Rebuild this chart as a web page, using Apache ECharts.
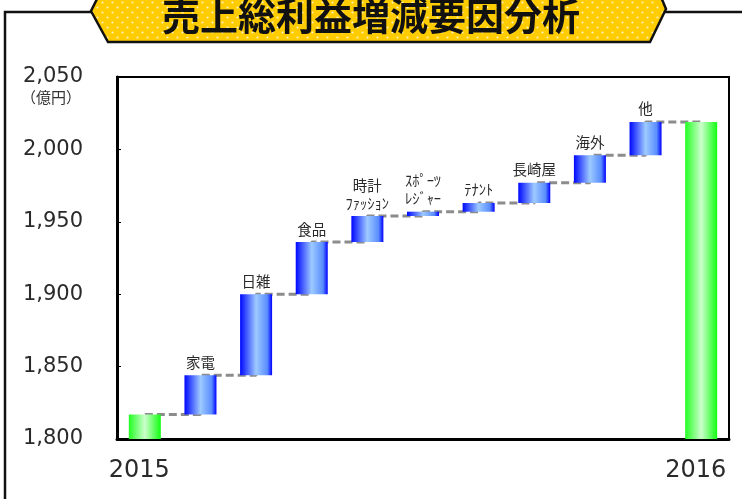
<!DOCTYPE html>
<html>
<head>
<meta charset="utf-8">
<script src="https://cdn.jsdelivr.net/npm/echarts@6/dist/echarts.min.js"></script>
<style>
  html, body { margin: 0; padding: 0; background: #fff; }
  #chart { width: 742px; height: 499px; }
</style>
</head>
<body>
<div id="chart"></div>
<script>
// 売上総利益の増減要因（億円）
const categories = ['2015', '家電', '日雑', '食品', '時計\nﾌｧｯｼｮﾝ', 'ｽﾎﾟｰﾂ\nﾚｼﾞｬｰ', 'ﾃﾅﾝﾄ', '長崎屋', '海外', '他', '2016'];
const startValue = 1817;
const increases = [27, 56, 36, 18, 3, 6, 14, 19, 23];
const endValue = 2019;
const yTicks = [1800, 1850, 1900, 1950, 2000, 2050];
const unitLabel = '（億円）';
const titleText = '売上総利益増減要因分析';

// waterfall layers built from the values above
const n = categories.length;
const baseData = [], incData = [], totalData = [], levels = [];
let running = startValue;
baseData.push(0); incData.push(0); totalData.push(startValue); levels.push(startValue);
increases.forEach(v => {
  baseData.push(running);
  incData.push(v);
  totalData.push(0);
  running += v;
  levels.push(running);
});
baseData.push(0); incData.push(0); totalData.push(endValue); levels.push(endValue);

const blueGrad = new echarts.graphic.LinearGradient(0, 0, 1, 0, [
  { offset: 0, color: '#0008ff' },
  { offset: 0.5, color: '#9dcaff' },
  { offset: 0.85, color: '#5a8dff' },
  { offset: 1, color: '#0000ff' }
]);
const greenGrad = new echarts.graphic.LinearGradient(0, 0, 1, 0, [
  { offset: 0, color: '#22ff22' },
  { offset: 0.5, color: '#ccffcc' },
  { offset: 1, color: '#11ff11' }
]);

// dotted fill for the title banner
const tile = document.createElement('canvas');
tile.width = 10; tile.height = 10;
(function () {
  const c = tile.getContext('2d');
  c.fillStyle = '#ffcc00';
  c.fillRect(0, 0, 10, 10);
  c.fillStyle = '#fff2b8';
  c.beginPath(); c.arc(2.5, 2.5, 1.1, 0, Math.PI * 2); c.fill();
  c.beginPath(); c.arc(7.5, 7.5, 1.1, 0, Math.PI * 2); c.fill();
})();

const numFont = 'DejaVu Sans, Verdana, sans-serif';
const jpFont = 'Noto Sans CJK JP, sans-serif';

const chart = echarts.init(document.getElementById('chart'));
chart.setOption({
  animation: false,
  backgroundColor: '#ffffff',
  grid: {
    left: 117, right: 13, top: 77, bottom: 60,
    show: true, borderColor: '#000', borderWidth: 2, backgroundColor: 'transparent'
  },
  xAxis: {
    type: 'category',
    data: categories,
    axisLine: { lineStyle: { color: '#000', width: 3 } },
    axisTick: { show: false },
    axisLabel: {
      interval: 0,
      margin: 20,
      fontSize: 24,
      color: '#2a2a2a',
      padding: [0, 11, 0, 0],
      fontFamily: numFont,
      formatter: (v, i) => (i === 0 || i === n - 1) ? v : ''
    }
  },
  yAxis: {
    type: 'value',
    min: yTicks[0],
    max: yTicks[yTicks.length - 1],
    interval: 50,
    splitLine: { show: false },
    axisLine: { show: true, lineStyle: { color: '#000', width: 3 } },
    axisTick: { show: true, inside: true, length: 4, lineStyle: { color: '#000', width: 1 } },
    axisLabel: {
      margin: 34,
      fontSize: 21,
      color: '#2a2a2a',
      fontFamily: numFont,
      formatter: v => v.toLocaleString('en-US')
    }
  },
  series: [
    {
      type: 'line',
      data: levels,
      step: 'end',
      symbol: 'none',
      z: 1,
      lineStyle: { color: '#8c8c8c', width: 3, type: [8, 4] }
    },
    {
      type: 'bar',
      stack: 'w',
      data: baseData,
      barWidth: 32,
      z: 3,
      itemStyle: { color: 'transparent' }
    },
    {
      type: 'bar',
      stack: 'w',
      data: incData,
      barWidth: 32,
      z: 3,
      itemStyle: { color: blueGrad },
      label: {
        show: true,
        position: 'top',
        distance: 4,
        fontSize: 14.5,
        lineHeight: 18,
        color: '#2a2a2a',
        fontFamily: jpFont,
        formatter: p => (p.dataIndex === 0 || p.dataIndex === n - 1) ? '' : categories[p.dataIndex]
      }
    },
    {
      type: 'bar',
      stack: 'w',
      data: totalData,
      barWidth: 32,
      z: 3,
      itemStyle: { color: greenGrad }
    }
  ],
  graphic: [
    // outer frame
    { type: 'polyline', z: 10, shape: { points: [[5, 499], [5, 12], [742, 12]] },
      style: { stroke: '#111', lineWidth: 2.5, fill: null } },
    // title banner
    { type: 'polygon', z: 11,
      shape: { points: [[98, -3], [91, 11], [108, 42], [650, 42], [666, 9], [661, -3]] },
      style: { fill: { image: tile, repeat: 'repeat' }, stroke: '#111', lineWidth: 2.5 } },
    { type: 'text', z: 12, left: 'center', top: -3,
      style: { text: titleText, fontSize: 38, fontWeight: 'bold', fill: '#111',
        fontFamily: jpFont } },
    // unit label
    { type: 'text', z: 12, left: 21, top: 90,
      style: { text: unitLabel, fontSize: 15, fill: '#333', fontFamily: jpFont } }
  ]
});
</script>
</body>
</html>
